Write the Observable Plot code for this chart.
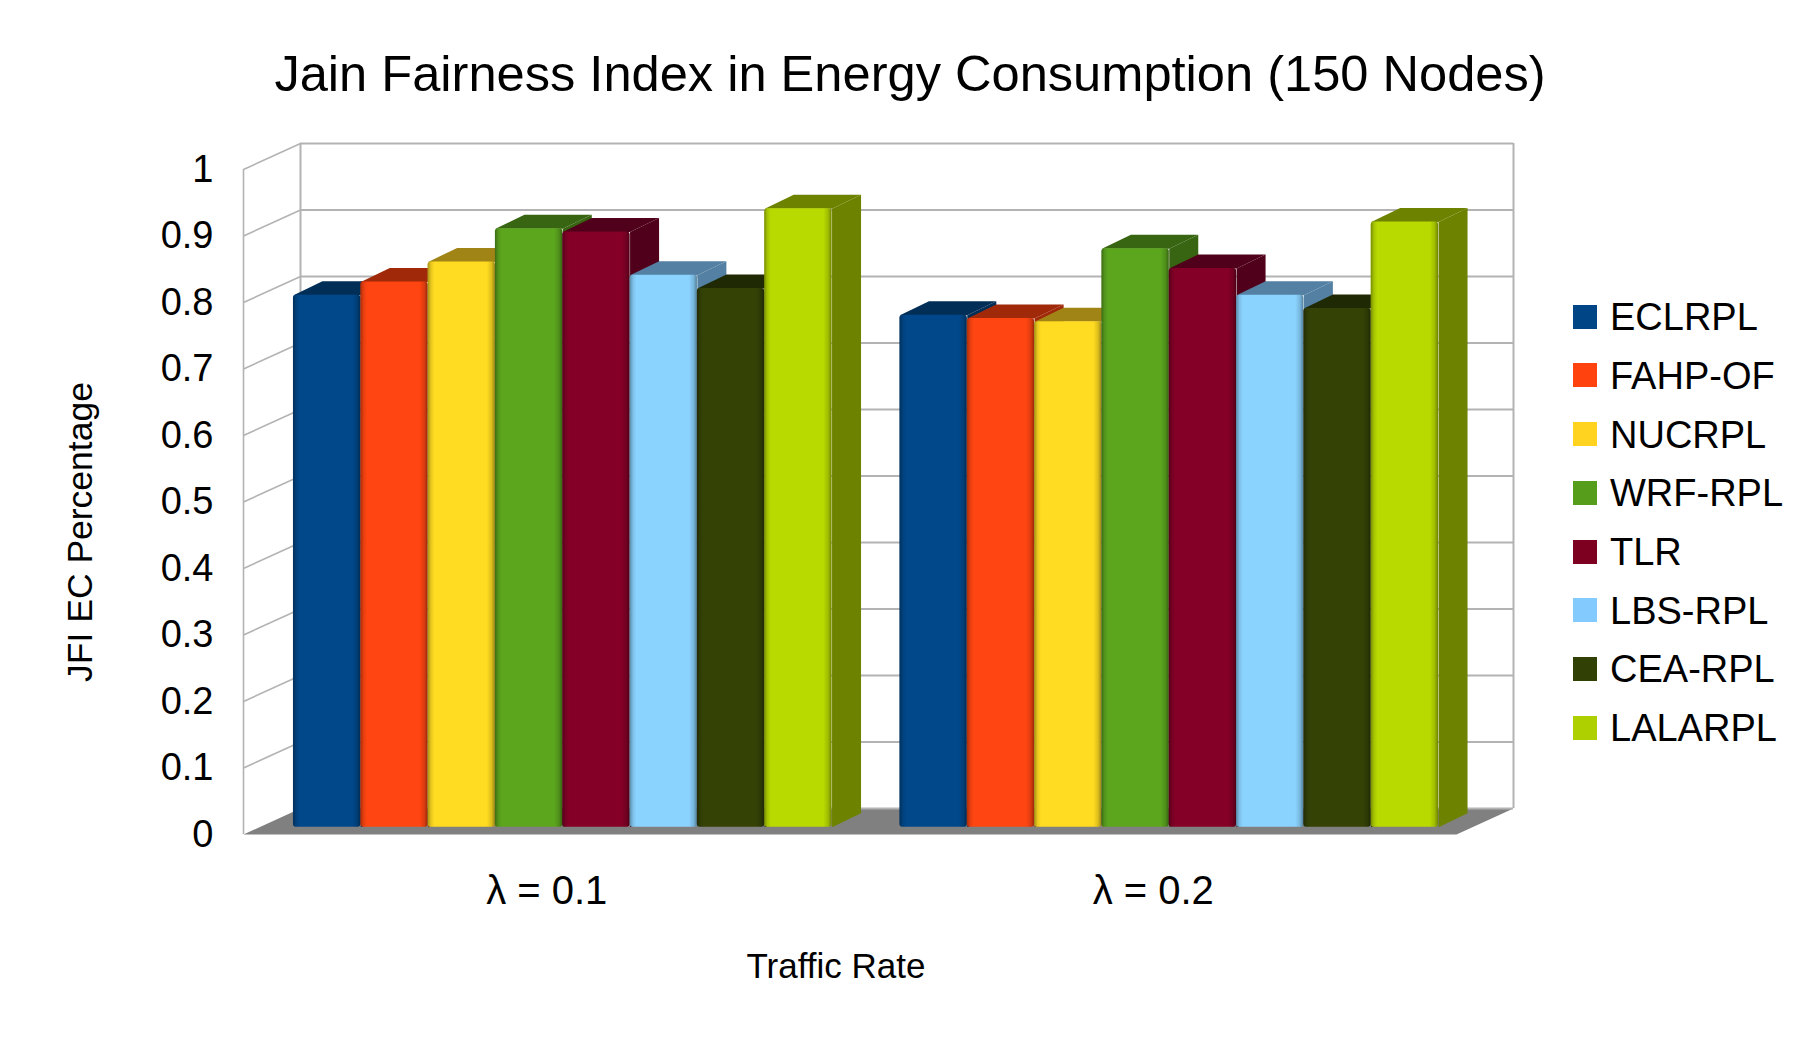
<!DOCTYPE html>
<html>
<head>
<meta charset="utf-8">
<script src="https://cdn.jsdelivr.net/npm/d3@7"></script>
<script src="https://cdn.jsdelivr.net/npm/@observablehq/plot@0.6"></script>
<style>
  html, body { margin: 0; padding: 0; background: #ffffff; }
  body { font-family: "Liberation Sans", Arial, sans-serif; color: #000; }
  #wrap { position: relative; width: 1818px; height: 1047px; overflow: hidden; }
  #chart { position: absolute; left: 0; top: 0; }
  #chart g[aria-label^="y-axis"] text { font-size: 38px; }
  #chart g[aria-label^="x-axis"] text { font-size: 40px; }
  .title { position: absolute; left: 910px; top: 48.8px; transform: translateX(-50%); font-size: 50.6px; line-height: 50.6px; white-space: nowrap; }
  .xtitle { position: absolute; left: 836px; top: 948px; transform: translateX(-50%); font-size: 35px; line-height: 35px; white-space: nowrap; }
  .ytitle { position: absolute; left: 81px; top: 532px; transform: translate(-50%, -50%) rotate(-90deg); font-size: 35.5px; line-height: 35.5px; white-space: nowrap; }
  .lg-sw { position: absolute; width: 24px; height: 24px; }
  .lg-tx { position: absolute; font-size: 38px; line-height: 38px; white-space: nowrap; }
</style>
</head>
<body>
<div id="wrap">
  <div id="chart"></div>
  <div class="title">Jain Fairness Index in Energy Consumption (150 Nodes)</div>
  <div class="xtitle">Traffic Rate</div>
  <div class="ytitle">JFI EC Percentage</div>
  <div id="legend"></div>
</div>
<script>
// ---- data ----
const categories = ["λ = 0.1", "λ = 0.2"];
const series = ["ECLRPL", "FAHP-OF", "NUCRPL", "WRF-RPL", "TLR", "LBS-RPL", "CEA-RPL", "LALARPL"];
const valuesLambda01 = [0.80, 0.82, 0.85, 0.90, 0.895, 0.83, 0.81, 0.93];
const valuesLambda02 = [0.77, 0.765, 0.76, 0.87, 0.84, 0.80, 0.78, 0.91];
const yTicks = [0, 0.1, 0.2, 0.3, 0.4, 0.5, 0.6, 0.7, 0.8, 0.9, 1];
const baseColors  = ["#004586", "#ff420e", "#ffd320", "#579d1c", "#7e0021", "#83caff", "#314004", "#aecf00"];
const frontColors = ["#00488a", "#ff4511", "#ffdc21", "#5ca61e", "#840027", "#8ad3ff", "#344206", "#b9da00"];
const topColors   = ["#002e57", "#a0290a", "#a08516", "#386512", "#50001a", "#5380a3", "#1f2903", "#6d8300"];

// ---- 3D geometry (in scale units) ----
const DX = 57 / 606.5;   // wall depth, x
const DY = 26 / 665;     // wall depth, y
const FX = 16 / 606.5;   // bar front-face depth offset, x
const FY = 7.3 / 665;    // bar front-face depth offset, y
const BX = 29 / 606.5;   // bar depth, x
const BY = 14 / 665;     // bar depth, y
const W = 0.111;         // bar width (fraction of a category band)
const PAD = (1 - series.length * W) / 2;

const valuesByCategory = [valuesLambda01, valuesLambda02];
const bars = categories.flatMap((c, gi) => series.map((s, si) => ({
  category: c, series: s, v: valuesByCategory[gi][si],
  x0: gi + PAD + si * W, si
})));

const poly = (pts, id, color) => pts.map(([x, y]) => ({x, y, id, color}));
const topFaces = bars.flatMap((b, i) => poly([
  [b.x0 + FX, b.v + FY], [b.x0 + FX + W, b.v + FY],
  [b.x0 + FX + W + BX, b.v + FY + BY], [b.x0 + FX + BX, b.v + FY + BY]
], "t" + i, topColors[b.si]));
const sideFaces = bars.flatMap((b, i) => poly([
  [b.x0 + FX + W, FY], [b.x0 + FX + W, b.v + FY],
  [b.x0 + FX + W + BX, b.v + FY + BY], [b.x0 + FX + W + BX, FY + BY]
], "s" + i, topColors[b.si]));
const floor = poly([[0, 0], [categories.length, 0], [categories.length + DX, DY], [DX, DY]], "floor", "#808080");

const svg = Plot.plot({
  width: 1818,
  height: 1047,
  marginLeft: 243,
  marginRight: 305,
  marginTop: 143,
  marginBottom: 213,
  style: { fontFamily: "Liberation Sans, Arial, sans-serif", fontSize: "38px", background: "transparent", color: "#000" },
  x: {
    type: "linear", domain: [0, categories.length + DX],
    ticks: categories.map((c, i) => i + 0.5),
    tickFormat: d => categories[Math.floor(d)],
    tickSize: 0, tickPadding: 41, label: null
  },
  y: {
    domain: [0, 1 + DY],
    ticks: yTicks,
    tickFormat: d => String(+d.toFixed(1)),
    tickSize: 0, tickPadding: 30, label: null
  },
  color: { type: "identity" },
  marks: [
    // floor
    Plot.line(floor, { x: "x", y: "y", z: "id", fill: "color", stroke: "none" }),
    // back wall gridlines
    Plot.ruleY(yTicks, { y: d => d + DY, x1: DX, x2: categories.length + DX, stroke: "#b3b3b3", strokeWidth: 2 }),
    // left wall gridlines (diagonals)
    Plot.link(yTicks.filter(d => d > 0), { x1: 0, y1: d => d, x2: DX, y2: d => d + DY, stroke: "#b3b3b3", strokeWidth: 1.6 }),
    // wall edges
    Plot.ruleX([0], { y1: 0, y2: 1, stroke: "#b3b3b3", strokeWidth: 1.6 }),
    Plot.ruleX([DX, categories.length + DX], { y1: DY, y2: 1 + DY, stroke: "#b3b3b3", strokeWidth: 2 }),
    // bars: side faces, top faces, front faces
    Plot.line(sideFaces, { x: "x", y: "y", z: "id", fill: "color", stroke: "none" }),
    Plot.line(topFaces, { x: "x", y: "y", z: "id", fill: "color", stroke: "none" }),
    Plot.rect(bars, { x1: d => d.x0 + FX, x2: d => d.x0 + FX + W, y1: d => FY, y2: d => d.v + FY, fill: d => frontColors[d.si], rx: 3 }),
    Plot.rect(bars, { x1: d => d.x0 + FX, x2: d => d.x0 + FX + W, y1: d => FY, y2: d => d.v + FY, fill: "url(#bevel)", rx: 3 })
  ]
});

// gradient used for the bevelled bar edges
const defs = d3.select(svg).insert("defs", ":first-child");
const g = defs.append("linearGradient").attr("id", "bevel").attr("x1", 0).attr("x2", 1).attr("y1", 0).attr("y2", 0);
[[0, 0.35], [0.05, 0.1], [0.1, 0], [0.88, 0], [0.95, 0.14], [1, 0.4]].forEach(([o, a]) =>
  g.append("stop").attr("offset", o).attr("stop-color", "#000").attr("stop-opacity", a));

document.getElementById("chart").appendChild(svg);

// legend
const legend = document.getElementById("legend");
series.forEach((s, i) => {
  const cy = 316.7 + i * 58.7;
  const sw = document.createElement("div");
  sw.className = "lg-sw";
  sw.style.left = "1573px";
  sw.style.top = (cy - 12) + "px";
  sw.style.background = baseColors[i];
  legend.appendChild(sw);
  const tx = document.createElement("div");
  tx.className = "lg-tx";
  tx.style.left = "1610px";
  tx.style.top = (cy - 18.6) + "px";
  tx.textContent = s;
  legend.appendChild(tx);
});
</script>
</body>
</html>
